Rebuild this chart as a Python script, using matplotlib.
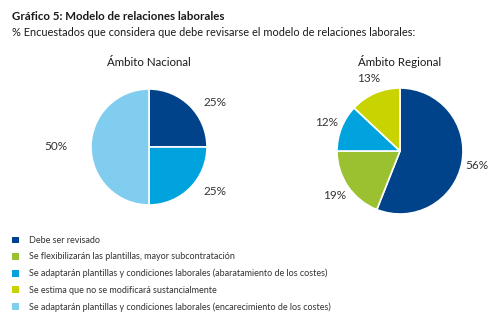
import matplotlib
matplotlib.use("Agg")
import matplotlib.pyplot as plt
from matplotlib.patches import Patch

plt.rcParams["font.family"] = ["Lato", "DejaVu Sans"]

W, H = 500, 332

TITLE = "Gráfico 5: Modelo de relaciones laborales"
SUBTITLE = "% Encuestados que considera que debe revisarse el modelo de relaciones laborales:"

categories = [
    "Debe ser revisado",
    "Se flexibilizarán las plantillas, mayor subcontratación",
    "Se adaptarán plantillas y condiciones laborales (abaratamiento de los costes)",
    "Se estima que no se modificará sustancialmente",
    "Se adaptarán plantillas y condiciones laborales (encarecimiento de los costes)",
]
colors = ["#00438a", "#9cc130", "#00a3dd", "#c8d300", "#80cdef"]

nacional_title = "Ámbito Nacional"
nacional_idx = [0, 2, 4]
nacional_vals = [25, 25, 50]

regional_title = "Ámbito Regional"
regional_idx = [0, 1, 2, 3]
regional_vals = [56, 19, 12, 13]


def pie_axes(fig, cx, cy, s=110):
    ax = fig.add_axes([(cx - s) / W, (H - cy - s) / H, 2 * s / W, 2 * s / H])
    ax.axis("off")
    return ax


def draw_pie(ax, vals, idx, r, labeldist, stretch=(1.0, 1.0), s=110):
    _, texts = ax.pie(vals, colors=[colors[i] for i in idx], startangle=90, counterclock=False,
                      labels=[f"{v}%" for v in vals], labeldistance=labeldist,
                      wedgeprops=dict(edgecolor="white", linewidth=1.2),
                      textprops=dict(fontsize=8.5, color="#333333", ha="center", va="center"))
    for t in texts:
        x, y = t.get_position()
        t.set_position((x * stretch[0], y * stretch[1]))
        t.set_ha("center")
    ax.set_xlim(-s / r, s / r)
    ax.set_ylim(-s / r, s / r)


fig = plt.figure(figsize=(W / 100, H / 100), dpi=100)

fig.text(12 / W, 1 - 17 / H, TITLE, fontsize=8.3, fontweight="bold", va="center", color="#1a1a1a")
fig.text(12 / W, 1 - 33 / H, SUBTITLE, fontsize=7.9, va="center", color="#1a1a1a")

ax1 = pie_axes(fig, 149, 147)
draw_pie(ax1, nacional_vals, nacional_idx, 58, 1.28, stretch=(1.25, 0.85))
fig.text(149 / W, 1 - 62 / H, nacional_title, fontsize=8.3, ha="center", va="center", color="#1a1a1a")

ax2 = pie_axes(fig, 400, 151)
draw_pie(ax2, regional_vals, regional_idx, 63, 1.25)
fig.text(400 / W, 1 - 62 / H, regional_title, fontsize=8.3, ha="center", va="center", color="#1a1a1a")

handles = [Patch(facecolor=c, edgecolor="none") for c in colors]
fig.legend(handles, categories, loc="upper left", bbox_to_anchor=(12 / W, 1 - 236 / H),
           frameon=False, fontsize=6.5, handlelength=0.75, handleheight=0.75,
           handletextpad=1.1, labelspacing=0.82, borderaxespad=0, borderpad=0,
           labelcolor="#333333")

fig.savefig("out.png", dpi=100, facecolor="white")
